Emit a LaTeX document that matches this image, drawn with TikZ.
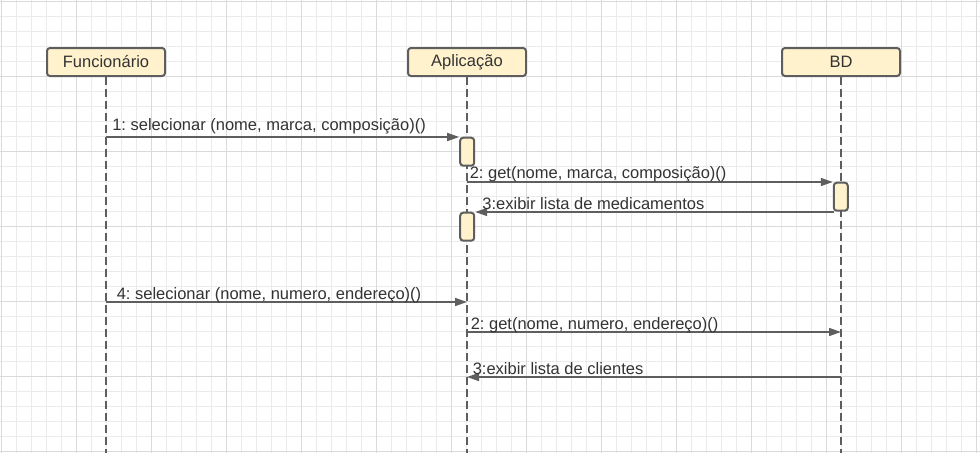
\documentclass[tikz,border=0pt]{standalone}
\usepackage{fontspec}
\setmainfont{Liberation Sans}
\usetikzlibrary{arrows.meta}
\definecolor{gridminor}{HTML}{EBEBEB}
\definecolor{gridmajor}{HTML}{DADADA}
\definecolor{boxfill}{HTML}{FFF2CC}
\definecolor{linegray}{HTML}{5E5E5E}
\definecolor{txtgray}{HTML}{333333}
\frenchspacing

\begin{document}
\begin{tikzpicture}[x=1pt, y=-1pt,
		headbox/.style={draw=linegray, fill=boxfill, line width=2pt, rounded corners=3pt,
				minimum width=118pt, minimum height=28pt, inner sep=0pt, text=txtgray,
				font=\fontsize{16.5}{19}\selectfont},
		actbox/.style={draw=linegray, fill=boxfill, line width=2pt, rounded corners=3pt,
				minimum width=14pt, minimum height=28pt, inner sep=0pt},
		lifeline/.style={draw=linegray, line width=1.5pt, dash pattern=on 8pt off 4pt},
		msg/.style={draw=linegray, line width=1.5pt, -{Triangle[length=12pt,width=8pt]}},
		msglbl/.style={anchor=base west, inner sep=0pt, text=txtgray,
				font=\fontsize{16.5}{19}\selectfont},
	]
	\useasboundingbox[fill=white] (0,0) rectangle (980,453);
	% grid
	\foreach \i in {0,...,65} \draw[gridminor, line width=1pt] (1.7+15*\i,0) -- (1.7+15*\i,453);
	\foreach \j in {0,...,30} \draw[gridminor, line width=1pt] (0,1.7+15*\j) -- (980,1.7+15*\j);
	\foreach \i in {0,...,13} \draw[gridmajor, line width=1pt] (1.7+75*\i,0) -- (1.7+75*\i,453);
	\foreach \j in {0,...,6} \draw[gridmajor, line width=1pt] (0,1.7+75*\j) -- (980,1.7+75*\j);
	% lifelines
	\node[headbox] (fun) at (106,62) {Funcionário};
	\node[headbox] (app) at (467,62) {Aplicação};
	\node[headbox] (bd)  at (841,62) {BD};
	\coordinate (funend) at (106,453);
	\coordinate (append) at (467,453);
	\coordinate (bdend)  at (841,453);
	\draw[lifeline] (fun.south) -- (funend);
	\draw[lifeline] (app.south) -- (append);
	\draw[lifeline] (bd.south) -- (bdend);
	% activations
	\node[actbox] (act1) at (467.2,151.7) {};
	\node[actbox] (act2) at (467.2,226.7) {};
	\node[actbox] (actb) at (840.8,196.7) {};
	% messages
	\coordinate (m1s) at (106,137);
	\coordinate (m2s) at (467,182);
	\coordinate (m3s) at (833.8,212);
	\coordinate (m4s) at (106,302);
	\coordinate (m5s) at (467,332);
	\coordinate (m6s) at (841,377);
	\draw[msg] (m1s) -- (act1.west |- m1s)
	node[msglbl, pos=0, xshift=5.5pt, yshift=7pt]{1: selecionar (nome, marca, composição)()};
	\draw[msg] (m2s) -- (actb.west |- m2s)
	node[msglbl, pos=0, xshift=2pt, yshift=3.5pt]{2: get(nome, marca, composição)()};
	\draw[msg] (m3s) -- (act2.east |- m3s)
	node[msglbl, pos=1, xshift=6.5pt, yshift=3pt]{3:exibir lista de medicamentos};
	\draw[msg] (m4s) -- (app.south |- m4s)
	node[msglbl, pos=0, xshift=10pt, yshift=2.5pt]{4: selecionar (nome, numero, endereço)()};
	\draw[msg] (m5s) -- (bd.south |- m5s)
	node[msglbl, pos=0, xshift=3pt, yshift=2.5pt]{2: get(nome, numero, endereço)()};
	\draw[msg] (m6s) -- (app.south |- m6s)
	node[msglbl, pos=1, xshift=5pt, yshift=2.7pt]{3:exibir lista de clientes};
\end{tikzpicture}
\end{document}
